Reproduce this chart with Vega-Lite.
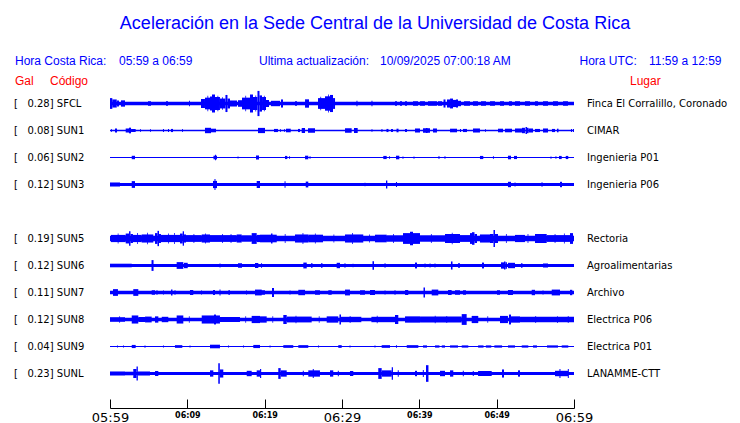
{
"$schema":"https://vega.github.io/schema/vega-lite/v6.json",
"autosize":{"type":"none"},
"width":464,"height":297,
"padding":{"left":110,"top":90,"right":166,"bottom":36},
"background":"#ffffff",
"title":{"text":"Aceleración en la Sede Central de la Universidad de Costa Rica","font":"Liberation Sans","fontSize":18,"fontWeight":"normal","color":"#0000ff","anchor":"middle","baseline":"alphabetic","offset":8,"dx":33},
"config":{"view":{"stroke":null}},
"datasets":{
"st":[
{"s":"SFCL","peak":0.28,"name":"Finca El Corralillo, Coronado"},
{"s":"SUN1","peak":0.08,"name":"CIMAR"},
{"s":"SUN2","peak":0.06,"name":"Ingenieria P01"},
{"s":"SUN3","peak":0.12,"name":"Ingenieria P06"},
{"s":"SUN5","peak":0.19,"name":"Rectoria"},
{"s":"SUN6","peak":0.12,"name":"Agroalimentarias"},
{"s":"SUN7","peak":0.11,"name":"Archivo"},
{"s":"SUN8","peak":0.12,"name":"Electrica P06"},
{"s":"SUN9","peak":0.04,"name":"Electrica P01"},
{"s":"SUNL","peak":0.23,"name":"LANAMME-CTT"}
],
"seg":[
{"s":"SFCL","t0":0,"t1":60,"a":0.038},{"s":"SFCL","t0":0,"t1":0.3,"a":0.12},{"s":"SFCL","t0":0.3,"t1":0.87,"a":0.09},{"s":"SFCL","t0":0.91,"t1":1.16,"a":0.067},{"s":"SFCL","t0":1.42,"t1":1.94,"a":0.07},{"s":"SFCL","t0":4.91,"t1":5.3,"a":0.05},{"s":"SFCL","t0":7.24,"t1":7.5,"a":0.05},{"s":"SFCL","t0":10.22,"t1":10.34,"a":0.06},
{"s":"SFCL","t0":11.77,"t1":12.28,"a":0.1},{"s":"SFCL","t0":12.28,"t1":12.93,"a":0.13},{"s":"SFCL","t0":12.6,"t1":12.7,"a":0.17},{"s":"SFCL","t0":12.93,"t1":13.19,"a":0.155},{"s":"SFCL","t0":13.19,"t1":13.58,"a":0.2},{"s":"SFCL","t0":13.58,"t1":14.22,"a":0.145},{"s":"SFCL","t0":13.9,"t1":14.0,"a":0.17},{"s":"SFCL","t0":14.22,"t1":14.93,"a":0.11},{"s":"SFCL","t0":14.5,"t1":14.6,"a":0.14},{"s":"SFCL","t0":14.93,"t1":15.19,"a":0.19},{"s":"SFCL","t0":15.19,"t1":15.52,"a":0.11},{"s":"SFCL","t0":15.52,"t1":16.42,"a":0.067},{"s":"SFCL","t0":16.55,"t1":17.07,"a":0.073},{"s":"SFCL","t0":17.07,"t1":18.1,"a":0.13},{"s":"SFCL","t0":17.5,"t1":17.6,"a":0.17},{"s":"SFCL","t0":18.1,"t1":18.49,"a":0.2},{"s":"SFCL","t0":18.49,"t1":19.07,"a":0.145},{"s":"SFCL","t0":18.8,"t1":18.9,"a":0.18},{"s":"SFCL","t0":19.07,"t1":19.33,"a":0.28},{"s":"SFCL","t0":19.33,"t1":19.66,"a":0.18},{"s":"SFCL","t0":19.66,"t1":20.17,"a":0.145},{"s":"SFCL","t0":19.9,"t1":20.0,"a":0.17},{"s":"SFCL","t0":20.17,"t1":20.56,"a":0.078},{"s":"SFCL","t0":20.82,"t1":21.98,"a":0.06},{"s":"SFCL","t0":22.11,"t1":22.37,"a":0.09},{"s":"SFCL","t0":23.92,"t1":24.18,"a":0.05},{"s":"SFCL","t0":25.22,"t1":25.73,"a":0.093},{"s":"SFCL","t0":26.9,"t1":27.8,"a":0.12},{"s":"SFCL","t0":27.2,"t1":27.3,"a":0.15},{"s":"SFCL","t0":27.8,"t1":28.45,"a":0.16},{"s":"SFCL","t0":28.2,"t1":28.3,"a":0.2},{"s":"SFCL","t0":28.45,"t1":28.84,"a":0.19},{"s":"SFCL","t0":28.84,"t1":29.1,"a":0.12},{"s":"SFCL","t0":31.87,"t1":32.0,"a":0.06},{"s":"SFCL","t0":33.81,"t1":33.94,"a":0.06},{"s":"SFCL","t0":36.85,"t1":37.11,"a":0.05},{"s":"SFCL","t0":37.5,"t1":37.76,"a":0.05},{"s":"SFCL","t0":38.15,"t1":38.4,"a":0.05},{"s":"SFCL","t0":39.18,"t1":39.83,"a":0.05},{"s":"SFCL","t0":40.09,"t1":40.73,"a":0.05},{"s":"SFCL","t0":41.12,"t1":42.28,"a":0.05},{"s":"SFCL","t0":42.41,"t1":42.93,"a":0.05},{"s":"SFCL","t0":43.13,"t1":43.38,"a":0.09},{"s":"SFCL","t0":43.58,"t1":43.97,"a":0.09},{"s":"SFCL","t0":43.97,"t1":44.35,"a":0.11},{"s":"SFCL","t0":44.35,"t1":44.74,"a":0.08},{"s":"SFCL","t0":44.74,"t1":45.0,"a":0.09},{"s":"SFCL","t0":45.0,"t1":45.39,"a":0.06},{"s":"SFCL","t0":45.78,"t1":46.55,"a":0.05},{"s":"SFCL","t0":46.94,"t1":47.59,"a":0.05},{"s":"SFCL","t0":47.97,"t1":48.62,"a":0.05},{"s":"SFCL","t0":49.14,"t1":49.78,"a":0.05},{"s":"SFCL","t0":50.43,"t1":50.95,"a":0.05},{"s":"SFCL","t0":51.59,"t1":51.98,"a":0.05},{"s":"SFCL","t0":52.37,"t1":53.02,"a":0.05},{"s":"SFCL","t0":53.66,"t1":54.31,"a":0.05},{"s":"SFCL","t0":54.96,"t1":55.34,"a":0.05},{"s":"SFCL","t0":55.99,"t1":56.64,"a":0.05},{"s":"SFCL","t0":57.28,"t1":57.93,"a":0.05},{"s":"SFCL","t0":58.58,"t1":59.22,"a":0.05},

{"s":"SUN1","t0":0,"t1":60,"a":0.018},{"s":"SUN1","t0":0.13,"t1":0.26,"a":0.03},{"s":"SUN1","t0":0.65,"t1":0.91,"a":0.045},{"s":"SUN1","t0":2.03,"t1":2.46,"a":0.045},{"s":"SUN1","t0":2.46,"t1":2.72,"a":0.063},{"s":"SUN1","t0":2.72,"t1":3.32,"a":0.033},{"s":"SUN1","t0":3.88,"t1":4.01,"a":0.03},{"s":"SUN1","t0":5.17,"t1":5.3,"a":0.03},{"s":"SUN1","t0":6.85,"t1":6.98,"a":0.035},{"s":"SUN1","t0":7.5,"t1":7.63,"a":0.035},{"s":"SUN1","t0":7.89,"t1":8.15,"a":0.035},{"s":"SUN1","t0":9.31,"t1":9.44,"a":0.03},{"s":"SUN1","t0":12.28,"t1":13.06,"a":0.06},{"s":"SUN1","t0":13.06,"t1":13.71,"a":0.04},{"s":"SUN1","t0":19.14,"t1":20.04,"a":0.058},{"s":"SUN1","t0":21.21,"t1":21.72,"a":0.035},{"s":"SUN1","t0":21.98,"t1":22.11,"a":0.03},{"s":"SUN1","t0":22.5,"t1":22.63,"a":0.03},{"s":"SUN1","t0":22.76,"t1":23.37,"a":0.04},{"s":"SUN1","t0":24.31,"t1":24.57,"a":0.035},{"s":"SUN1","t0":24.79,"t1":25.22,"a":0.055},{"s":"SUN1","t0":25.6,"t1":26.51,"a":0.05},{"s":"SUN1","t0":30.39,"t1":31.25,"a":0.05},{"s":"SUN1","t0":31.55,"t1":32.03,"a":0.055},{"s":"SUN1","t0":33.81,"t1":33.94,"a":0.03},{"s":"SUN1","t0":35.1,"t1":35.23,"a":0.035},{"s":"SUN1","t0":35.75,"t1":36.01,"a":0.035},{"s":"SUN1","t0":36.34,"t1":36.59,"a":0.035},{"s":"SUN1","t0":37.05,"t1":37.31,"a":0.04},{"s":"SUN1","t0":38.15,"t1":38.4,"a":0.035},{"s":"SUN1","t0":39.44,"t1":40.09,"a":0.045},{"s":"SUN1","t0":40.47,"t1":41.38,"a":0.05},{"s":"SUN1","t0":40.86,"t1":41.06,"a":0.055},{"s":"SUN1","t0":41.77,"t1":42.28,"a":0.045},{"s":"SUN1","t0":43.97,"t1":44.87,"a":0.04},{"s":"SUN1","t0":45.26,"t1":45.39,"a":0.035},{"s":"SUN1","t0":45.65,"t1":46.16,"a":0.035},{"s":"SUN1","t0":46.94,"t1":47.84,"a":0.045},{"s":"SUN1","t0":48.49,"t1":48.62,"a":0.03},{"s":"SUN1","t0":50.17,"t1":50.82,"a":0.04},{"s":"SUN1","t0":51.08,"t1":51.98,"a":0.04},{"s":"SUN1","t0":52.37,"t1":53.27,"a":0.045},{"s":"SUN1","t0":53.27,"t1":53.66,"a":0.06},{"s":"SUN1","t0":53.73,"t1":53.92,"a":0.08},{"s":"SUN1","t0":53.92,"t1":54.12,"a":0.06},{"s":"SUN1","t0":54.12,"t1":54.7,"a":0.045},{"s":"SUN1","t0":54.96,"t1":55.6,"a":0.035},{"s":"SUN1","t0":55.99,"t1":56.64,"a":0.045},{"s":"SUN1","t0":57.15,"t1":57.54,"a":0.035},{"s":"SUN1","t0":57.8,"t1":58.0,"a":0.04},{"s":"SUN1","t0":59.61,"t1":59.74,"a":0.035},{"s":"SUN1","t0":59.87,"t1":60,"a":0.035},

{"s":"SUN2","t0":0,"t1":60,"a":0.013},{"s":"SUN2","t0":2.81,"t1":3.23,"a":0.038},{"s":"SUN2","t0":13.38,"t1":13.84,"a":0.04},{"s":"SUN2","t0":13.58,"t1":13.71,"a":0.06},{"s":"SUN2","t0":16.49,"t1":16.62,"a":0.02},{"s":"SUN2","t0":18.88,"t1":19.27,"a":0.045},{"s":"SUN2","t0":22.63,"t1":22.93,"a":0.035},{"s":"SUN2","t0":23.15,"t1":23.28,"a":0.03},{"s":"SUN2","t0":25.22,"t1":25.64,"a":0.04},{"s":"SUN2","t0":25.8,"t1":25.93,"a":0.03},{"s":"SUN2","t0":35.34,"t1":35.78,"a":0.035},{"s":"SUN2","t0":36.08,"t1":36.21,"a":0.03},{"s":"SUN2","t0":36.98,"t1":37.41,"a":0.04},{"s":"SUN2","t0":37.82,"t1":37.95,"a":0.025},{"s":"SUN2","t0":39.25,"t1":39.37,"a":0.025},{"s":"SUN2","t0":42.48,"t1":42.6,"a":0.035},{"s":"SUN2","t0":43.25,"t1":43.38,"a":0.03},{"s":"SUN2","t0":47.84,"t1":48.27,"a":0.035},{"s":"SUN2","t0":49.52,"t1":49.65,"a":0.03},{"s":"SUN2","t0":51.46,"t1":51.85,"a":0.04},{"s":"SUN2","t0":52.24,"t1":52.63,"a":0.035},{"s":"SUN2","t0":56.96,"t1":57.09,"a":0.025},{"s":"SUN2","t0":57.6,"t1":57.73,"a":0.03},{"s":"SUN2","t0":58.06,"t1":58.41,"a":0.035},{"s":"SUN2","t0":58.93,"t1":59.26,"a":0.035},

{"s":"SUN3","t0":0,"t1":60,"a":0.033},{"s":"SUN3","t0":0,"t1":1.29,"a":0.045},{"s":"SUN3","t0":2.81,"t1":3.23,"a":0.075},{"s":"SUN3","t0":13.32,"t1":13.84,"a":0.08},{"s":"SUN3","t0":13.51,"t1":13.64,"a":0.12},{"s":"SUN3","t0":18.97,"t1":19.4,"a":0.078},{"s":"SUN3","t0":22.57,"t1":22.7,"a":0.07},{"s":"SUN3","t0":25.31,"t1":25.64,"a":0.065},{"s":"SUN3","t0":32.91,"t1":33.04,"a":0.04},{"s":"SUN3","t0":35.69,"t1":35.86,"a":0.09},{"s":"SUN3","t0":36.98,"t1":37.11,"a":0.055},{"s":"SUN3","t0":51.46,"t1":51.85,"a":0.06},{"s":"SUN3","t0":52.31,"t1":52.44,"a":0.045},{"s":"SUN3","t0":55.8,"t1":55.93,"a":0.05},{"s":"SUN3","t0":58.19,"t1":58.45,"a":0.06},

{"s":"SUN5","t0":0,"t1":60,"a":0.062},{"s":"SUN5","t0":0.13,"t1":2.03,"a":0.08},{"s":"SUN5","t0":2.03,"t1":2.46,"a":0.11},{"s":"SUN5","t0":2.46,"t1":2.65,"a":0.16},{"s":"SUN5","t0":2.65,"t1":2.97,"a":0.1},{"s":"SUN5","t0":2.97,"t1":4.1,"a":0.08},{"s":"SUN5","t0":4.1,"t1":5.6,"a":0.09},{"s":"SUN5","t0":5.82,"t1":6.14,"a":0.12},{"s":"SUN5","t0":6.14,"t1":6.34,"a":0.17},{"s":"SUN5","t0":6.34,"t1":6.59,"a":0.1},{"s":"SUN5","t0":6.59,"t1":9.05,"a":0.08},{"s":"SUN5","t0":9.05,"t1":9.4,"a":0.11},{"s":"SUN5","t0":9.4,"t1":9.57,"a":0.16},{"s":"SUN5","t0":9.57,"t1":9.83,"a":0.09},{"s":"SUN5","t0":9.83,"t1":11.86,"a":0.075},{"s":"SUN5","t0":11.86,"t1":12.93,"a":0.09},{"s":"SUN5","t0":12.93,"t1":16.38,"a":0.075},{"s":"SUN5","t0":16.38,"t1":17.03,"a":0.09},{"s":"SUN5","t0":17.03,"t1":18.32,"a":0.07},{"s":"SUN5","t0":18.32,"t1":18.97,"a":0.12},{"s":"SUN5","t0":18.97,"t1":19.4,"a":0.08},{"s":"SUN5","t0":19.4,"t1":21.56,"a":0.085},{"s":"SUN5","t0":20.82,"t1":21.01,"a":0.11},{"s":"SUN5","t0":23.92,"t1":25.64,"a":0.09},{"s":"SUN5","t0":25.64,"t1":27.54,"a":0.085},{"s":"SUN5","t0":30.39,"t1":32.75,"a":0.09},{"s":"SUN5","t0":34.27,"t1":35.78,"a":0.085},{"s":"SUN5","t0":35.78,"t1":37.89,"a":0.07},{"s":"SUN5","t0":37.89,"t1":38.79,"a":0.12},{"s":"SUN5","t0":38.79,"t1":39.18,"a":0.15},{"s":"SUN5","t0":39.18,"t1":40.09,"a":0.12},{"s":"SUN5","t0":40.09,"t1":43.32,"a":0.07},{"s":"SUN5","t0":43.32,"t1":45.26,"a":0.1},{"s":"SUN5","t0":45.26,"t1":46.55,"a":0.075},{"s":"SUN5","t0":46.55,"t1":46.81,"a":0.12},{"s":"SUN5","t0":46.81,"t1":47.13,"a":0.14},{"s":"SUN5","t0":47.13,"t1":47.46,"a":0.1},{"s":"SUN5","t0":47.84,"t1":49.14,"a":0.09},{"s":"SUN5","t0":49.14,"t1":49.59,"a":0.1},{"s":"SUN5","t0":49.59,"t1":49.78,"a":0.19},{"s":"SUN5","t0":49.78,"t1":50.17,"a":0.1},{"s":"SUN5","t0":52.37,"t1":53.66,"a":0.08},{"s":"SUN5","t0":54.96,"t1":56.47,"a":0.1},{"s":"SUN5","t0":56.47,"t1":59.48,"a":0.075},{"s":"SUN5","t0":59.48,"t1":59.87,"a":0.12},
{"s":"SUN5","t0":1.0,"t1":1.1,"a":0.11},{"s":"SUN5","t0":3.5,"t1":3.6,"a":0.12},{"s":"SUN5","t0":4.8,"t1":4.9,"a":0.13},{"s":"SUN5","t0":7.5,"t1":7.6,"a":0.11},{"s":"SUN5","t0":8.3,"t1":8.4,"a":0.12},{"s":"SUN5","t0":10.8,"t1":10.9,"a":0.1},{"s":"SUN5","t0":12.3,"t1":12.4,"a":0.11},{"s":"SUN5","t0":14.5,"t1":14.6,"a":0.1},{"s":"SUN5","t0":15.6,"t1":15.7,"a":0.1},{"s":"SUN5","t0":22.6,"t1":22.7,"a":0.1},{"s":"SUN5","t0":24.9,"t1":25.0,"a":0.12},{"s":"SUN5","t0":26.5,"t1":26.6,"a":0.11},{"s":"SUN5","t0":28.9,"t1":29.0,"a":0.09},{"s":"SUN5","t0":31.3,"t1":31.4,"a":0.12},{"s":"SUN5","t0":33.5,"t1":33.6,"a":0.09},{"s":"SUN5","t0":36.6,"t1":36.7,"a":0.1},{"s":"SUN5","t0":41.5,"t1":41.6,"a":0.1},{"s":"SUN5","t0":44.2,"t1":44.3,"a":0.13},{"s":"SUN5","t0":51.2,"t1":51.3,"a":0.1},{"s":"SUN5","t0":54.0,"t1":54.1,"a":0.1},{"s":"SUN5","t0":57.5,"t1":57.6,"a":0.1},{"s":"SUN5","t0":58.7,"t1":58.8,"a":0.11},

{"s":"SUN6","t0":0,"t1":60,"a":0.033},{"s":"SUN6","t0":0,"t1":2.81,"a":0.04},{"s":"SUN6","t0":5.37,"t1":5.63,"a":0.12},{"s":"SUN6","t0":8.62,"t1":9.48,"a":0.075},{"s":"SUN6","t0":9.57,"t1":10.05,"a":0.06},{"s":"SUN6","t0":14.16,"t1":14.29,"a":0.045},{"s":"SUN6","t0":16.55,"t1":17.07,"a":0.05},{"s":"SUN6","t0":18.75,"t1":19.18,"a":0.055},{"s":"SUN6","t0":19.53,"t1":19.66,"a":0.05},{"s":"SUN6","t0":25.0,"t1":25.44,"a":0.065},{"s":"SUN6","t0":25.99,"t1":26.19,"a":0.05},{"s":"SUN6","t0":27.28,"t1":27.48,"a":0.05},{"s":"SUN6","t0":29.31,"t1":29.74,"a":0.06},{"s":"SUN6","t0":30.32,"t1":30.45,"a":0.05},{"s":"SUN6","t0":31.36,"t1":31.49,"a":0.04},{"s":"SUN6","t0":33.94,"t1":34.14,"a":0.095},{"s":"SUN6","t0":35.5,"t1":35.63,"a":0.05},{"s":"SUN6","t0":39.44,"t1":39.7,"a":0.065},{"s":"SUN6","t0":40.67,"t1":40.8,"a":0.045},{"s":"SUN6","t0":41.32,"t1":41.45,"a":0.045},{"s":"SUN6","t0":41.96,"t1":42.09,"a":0.045},{"s":"SUN6","t0":44.09,"t1":44.29,"a":0.09},{"s":"SUN6","t0":45.0,"t1":45.26,"a":0.05},{"s":"SUN6","t0":48.1,"t1":48.36,"a":0.065},{"s":"SUN6","t0":50.56,"t1":50.95,"a":0.07},{"s":"SUN6","t0":50.95,"t1":51.14,"a":0.09},{"s":"SUN6","t0":51.14,"t1":51.33,"a":0.07},{"s":"SUN6","t0":51.46,"t1":52.37,"a":0.06},{"s":"SUN6","t0":53.15,"t1":53.34,"a":0.05},{"s":"SUN6","t0":55.99,"t1":56.64,"a":0.045},

{"s":"SUN7","t0":0,"t1":60,"a":0.037},{"s":"SUN7","t0":0.39,"t1":1.03,"a":0.075},{"s":"SUN7","t0":3.01,"t1":3.66,"a":0.075},{"s":"SUN7","t0":5.39,"t1":5.82,"a":0.05},{"s":"SUN7","t0":6.01,"t1":6.14,"a":0.05},{"s":"SUN7","t0":6.85,"t1":6.98,"a":0.045},{"s":"SUN7","t0":7.89,"t1":8.08,"a":0.065},{"s":"SUN7","t0":8.34,"t1":8.47,"a":0.05},{"s":"SUN7","t0":10.34,"t1":10.77,"a":0.055},{"s":"SUN7","t0":11.77,"t1":11.9,"a":0.045},{"s":"SUN7","t0":13.32,"t1":13.58,"a":0.055},{"s":"SUN7","t0":14.16,"t1":14.29,"a":0.065},{"s":"SUN7","t0":15.3,"t1":15.52,"a":0.05},{"s":"SUN7","t0":17.59,"t1":17.72,"a":0.045},{"s":"SUN7","t0":18.75,"t1":19.62,"a":0.065},{"s":"SUN7","t0":19.4,"t1":20.04,"a":0.05},{"s":"SUN7","t0":20.95,"t1":21.21,"a":0.1},{"s":"SUN7","t0":23.21,"t1":23.34,"a":0.045},{"s":"SUN7","t0":24.35,"t1":25.22,"a":0.06},{"s":"SUN7","t0":26.51,"t1":27.15,"a":0.05},{"s":"SUN7","t0":28.23,"t1":28.67,"a":0.05},{"s":"SUN7","t0":30.39,"t1":31.03,"a":0.065},{"s":"SUN7","t0":32.33,"t1":32.97,"a":0.05},{"s":"SUN7","t0":33.62,"t1":34.27,"a":0.055},{"s":"SUN7","t0":35.5,"t1":35.63,"a":0.045},{"s":"SUN7","t0":36.79,"t1":36.92,"a":0.05},{"s":"SUN7","t0":38.15,"t1":38.57,"a":0.055},{"s":"SUN7","t0":40.54,"t1":40.73,"a":0.11},{"s":"SUN7","t0":41.6,"t1":42.45,"a":0.065},{"s":"SUN7","t0":43.71,"t1":44.18,"a":0.055},{"s":"SUN7","t0":44.61,"t1":45.26,"a":0.05},{"s":"SUN7","t0":45.65,"t1":46.03,"a":0.05},{"s":"SUN7","t0":50.04,"t1":50.43,"a":0.05},{"s":"SUN7","t0":51.46,"t1":52.11,"a":0.055},{"s":"SUN7","t0":54.53,"t1":54.96,"a":0.06},{"s":"SUN7","t0":55.93,"t1":56.06,"a":0.045},{"s":"SUN7","t0":57.12,"t1":58.19,"a":0.065},{"s":"SUN7","t0":59.48,"t1":59.78,"a":0.06},

{"s":"SUN8","t0":0,"t1":60,"a":0.04},{"s":"SUN8","t0":0,"t1":1.94,"a":0.05},{"s":"SUN8","t0":2.81,"t1":3.66,"a":0.09},{"s":"SUN8","t0":3.66,"t1":4.53,"a":0.055},{"s":"SUN8","t0":4.53,"t1":5.39,"a":0.065},{"s":"SUN8","t0":5.82,"t1":6.25,"a":0.07},{"s":"SUN8","t0":6.69,"t1":7.54,"a":0.06},{"s":"SUN8","t0":8.62,"t1":9.48,"a":0.09},{"s":"SUN8","t0":11.86,"t1":13.45,"a":0.09},{"s":"SUN8","t0":13.45,"t1":13.71,"a":0.11},{"s":"SUN8","t0":13.71,"t1":14.22,"a":0.09},{"s":"SUN8","t0":14.22,"t1":16.81,"a":0.055},{"s":"SUN8","t0":18.32,"t1":19.4,"a":0.08},{"s":"SUN8","t0":19.4,"t1":20.26,"a":0.07},{"s":"SUN8","t0":22.41,"t1":22.85,"a":0.1},{"s":"SUN8","t0":22.85,"t1":26.08,"a":0.065},{"s":"SUN8","t0":28.02,"t1":29.52,"a":0.07},{"s":"SUN8","t0":29.67,"t1":29.87,"a":0.11},{"s":"SUN8","t0":29.87,"t1":32.5,"a":0.06},{"s":"SUN8","t0":33.8,"t1":36.85,"a":0.06},{"s":"SUN8","t0":36.85,"t1":37.28,"a":0.1},{"s":"SUN8","t0":38.15,"t1":40.09,"a":0.07},{"s":"SUN8","t0":40.09,"t1":45.48,"a":0.065},{"s":"SUN8","t0":45.48,"t1":46.12,"a":0.12},{"s":"SUN8","t0":46.77,"t1":47.62,"a":0.08},{"s":"SUN8","t0":50.43,"t1":51.46,"a":0.08},{"s":"SUN8","t0":51.59,"t1":51.85,"a":0.11},{"s":"SUN8","t0":51.85,"t1":53.02,"a":0.07},{"s":"SUN8","t0":53.02,"t1":60,"a":0.06},
{"s":"SUN8","t0":1.2,"t1":1.3,"a":0.07},{"s":"SUN8","t0":10.2,"t1":10.3,"a":0.07},{"s":"SUN8","t0":17.5,"t1":17.6,"a":0.07},{"s":"SUN8","t0":21.0,"t1":21.1,"a":0.07},{"s":"SUN8","t0":24.0,"t1":24.1,"a":0.085},{"s":"SUN8","t0":27.0,"t1":27.1,"a":0.07},{"s":"SUN8","t0":31.0,"t1":31.1,"a":0.08},{"s":"SUN8","t0":34.5,"t1":34.6,"a":0.085},{"s":"SUN8","t0":42.0,"t1":42.1,"a":0.085},{"s":"SUN8","t0":43.5,"t1":43.6,"a":0.08},{"s":"SUN8","t0":48.8,"t1":48.9,"a":0.07},{"s":"SUN8","t0":55.0,"t1":55.1,"a":0.08},{"s":"SUN8","t0":57.8,"t1":57.9,"a":0.075},{"s":"SUN8","t0":59.2,"t1":59.3,"a":0.08},

{"s":"SUN9","t0":0,"t1":60,"a":0.013},{"s":"SUN9","t0":0.91,"t1":1.03,"a":0.02},{"s":"SUN9","t0":1.68,"t1":1.81,"a":0.02},{"s":"SUN9","t0":2.81,"t1":3.32,"a":0.035},{"s":"SUN9","t0":4.46,"t1":4.59,"a":0.025},{"s":"SUN9","t0":6.85,"t1":6.98,"a":0.02},{"s":"SUN9","t0":8.4,"t1":9.35,"a":0.03},{"s":"SUN9","t0":10.28,"t1":10.41,"a":0.02},{"s":"SUN9","t0":12.93,"t1":14.22,"a":0.04},{"s":"SUN9","t0":15.26,"t1":15.39,"a":0.02},{"s":"SUN9","t0":17.2,"t1":17.33,"a":0.02},{"s":"SUN9","t0":18.53,"t1":19.4,"a":0.035},{"s":"SUN9","t0":20.63,"t1":20.76,"a":0.02},{"s":"SUN9","t0":22.41,"t1":23.7,"a":0.03},{"s":"SUN9","t0":24.35,"t1":25.64,"a":0.03},{"s":"SUN9","t0":26.9,"t1":27.03,"a":0.02},{"s":"SUN9","t0":29.52,"t1":29.96,"a":0.03},{"s":"SUN9","t0":30.97,"t1":31.1,"a":0.02},{"s":"SUN9","t0":34.2,"t1":34.33,"a":0.02},{"s":"SUN9","t0":35.13,"t1":36.21,"a":0.03},{"s":"SUN9","t0":36.98,"t1":37.11,"a":0.03},{"s":"SUN9","t0":38.37,"t1":39.87,"a":0.03},{"s":"SUN9","t0":40.47,"t1":40.99,"a":0.025},{"s":"SUN9","t0":42.03,"t1":42.6,"a":0.025},{"s":"SUN9","t0":42.9,"t1":43.32,"a":0.025},{"s":"SUN9","t0":43.97,"t1":45.0,"a":0.025},{"s":"SUN9","t0":45.48,"t1":46.33,"a":0.025},{"s":"SUN9","t0":47.6,"t1":48.3,"a":0.025},{"s":"SUN9","t0":48.6,"t1":49.3,"a":0.025},{"s":"SUN9","t0":49.7,"t1":50.7,"a":0.025},{"s":"SUN9","t0":51.46,"t1":52.37,"a":0.025},{"s":"SUN9","t0":53.24,"t1":54.09,"a":0.025},{"s":"SUN9","t0":54.7,"t1":55.21,"a":0.025},{"s":"SUN9","t0":56.51,"t1":57.93,"a":0.025},{"s":"SUN9","t0":58.41,"t1":59.26,"a":0.025},

{"s":"SUNL","t0":0,"t1":60,"a":0.033},{"s":"SUNL","t0":0,"t1":1.94,"a":0.045},{"s":"SUNL","t0":1.94,"t1":3.01,"a":0.04},{"s":"SUNL","t0":3.01,"t1":3.43,"a":0.1},{"s":"SUNL","t0":3.43,"t1":3.6,"a":0.155},{"s":"SUNL","t0":3.6,"t1":5.17,"a":0.045},{"s":"SUNL","t0":5.82,"t1":6.25,"a":0.055},{"s":"SUNL","t0":12.93,"t1":13.36,"a":0.07},{"s":"SUNL","t0":14.0,"t1":14.2,"a":0.23},{"s":"SUNL","t0":14.2,"t1":14.65,"a":0.09},{"s":"SUNL","t0":17.68,"t1":18.32,"a":0.06},{"s":"SUNL","t0":18.97,"t1":19.4,"a":0.07},{"s":"SUNL","t0":19.4,"t1":19.55,"a":0.1},{"s":"SUNL","t0":21.76,"t1":22.07,"a":0.12},{"s":"SUNL","t0":22.07,"t1":22.85,"a":0.07},{"s":"SUNL","t0":24.93,"t1":25.06,"a":0.06},{"s":"SUNL","t0":25.64,"t1":27.15,"a":0.07},{"s":"SUNL","t0":26.22,"t1":26.35,"a":0.1},{"s":"SUNL","t0":28.45,"t1":28.87,"a":0.07},{"s":"SUNL","t0":29.46,"t1":29.59,"a":0.06},{"s":"SUNL","t0":31.03,"t1":31.46,"a":0.055},{"s":"SUNL","t0":34.69,"t1":35.13,"a":0.12},{"s":"SUNL","t0":35.13,"t1":36.43,"a":0.07},{"s":"SUNL","t0":36.43,"t1":36.59,"a":0.14},{"s":"SUNL","t0":37.21,"t1":37.34,"a":0.07},{"s":"SUNL","t0":39.44,"t1":39.7,"a":0.06},{"s":"SUNL","t0":40.45,"t1":40.58,"a":0.08},{"s":"SUNL","t0":40.86,"t1":41.18,"a":0.185},{"s":"SUNL","t0":42.67,"t1":43.32,"a":0.06},{"s":"SUNL","t0":43.97,"t1":44.39,"a":0.07},{"s":"SUNL","t0":45.62,"t1":45.75,"a":0.06},{"s":"SUNL","t0":46.91,"t1":47.04,"a":0.055},{"s":"SUNL","t0":47.59,"t1":49.36,"a":0.055},{"s":"SUNL","t0":50.69,"t1":50.95,"a":0.09},{"s":"SUNL","t0":52.76,"t1":53.02,"a":0.07},{"s":"SUNL","t0":57.54,"t1":59.26,"a":0.06},{"s":"SUNL","t0":58.12,"t1":58.25,"a":0.1},{"s":"SUNL","t0":59.2,"t1":59.33,"a":0.1}
]
},
"layer":[
{"data":{"name":"seg"},
 "mark":{"type":"rule","color":"#0000ff"},
 "encoding":{
  "x":{"field":"t0","type":"quantitative","scale":{"domain":[0,60],"nice":false,"zero":false},
   "axis":{"values":[0,5,10,15,20,25,30,35,40,45,50,55,60],"title":null,"grid":false,"offset":21,
    "domainColor":"#000000","domainWidth":1,"tickColor":"#000000","tickWidth":1,"tickSize":-9,"labelPadding":12,
    "labelExpr":"datum.value % 10 == 0 ? timeFormat(datetime(2025, 9, 9, 5, 59 + datum.value), '%H:%M') : ''",
    "labelFont":"DejaVu Sans","labelColor":"#000000","labelFlush":false,"labelOverlap":false,"labelBaseline":"top",
    "labelFontSize":{"condition":{"test":"datum.value % 30 == 0","value":13},"value":8},
    "labelFontWeight":{"condition":{"test":"datum.value % 30 == 0","value":"normal"},"value":"bold"}}},
  "x2":{"field":"t1"},
  "y":{"field":"s","type":"nominal","scale":{"type":"point","domain":["SFCL","SUN1","SUN2","SUN3","SUN4","SUN5","SUN6","SUN7","SUN8","SUN9","SUNL"],"padding":0.5},"axis":null},
  "strokeWidth":{"field":"a","type":"quantitative","scale":{"domain":[0,0.3],"range":[0,27]},"legend":null}
 }},
{"data":{"name":"st"},
 "transform":[{"calculate":"'[\u00a0\u00a0\u00a0' + format(datum.peak, '.2f') + '] ' + datum.s","as":"label"}],
 "mark":{"type":"text","align":"left","baseline":"middle","dx":-96,"font":"DejaVu Sans","fontSize":10,"color":"#000000"},
 "encoding":{"x":{"datum":0},"y":{"field":"s","type":"nominal"},"text":{"field":"label"}}},
{"data":{"name":"st"},
 "mark":{"type":"text","align":"left","baseline":"middle","dx":13,"font":"DejaVu Sans","fontSize":10,"color":"#000000"},
 "encoding":{"x":{"datum":60},"y":{"field":"s","type":"nominal"},"text":{"field":"name"}}},
{"data":{"values":[{}]},"mark":{"type":"text","text":"Hora Costa Rica:","align":"left","baseline":"middle","dx":-95,"dy":-42.3,"font":"Liberation Sans","fontSize":12,"color":"#0000ff"},"encoding":{"x":{"datum":0},"y":{"datum":"SFCL"}}},
{"data":{"values":[{}]},"mark":{"type":"text","text":"05:59 a 06:59","align":"left","baseline":"middle","dx":9,"dy":-42.3,"font":"Liberation Sans","fontSize":12,"color":"#0000ff"},"encoding":{"x":{"datum":0},"y":{"datum":"SFCL"}}},
{"data":{"values":[{}]},"mark":{"type":"text","text":"Ultima actualización:","align":"left","baseline":"middle","dx":149,"dy":-42.3,"font":"Liberation Sans","fontSize":12,"color":"#0000ff"},"encoding":{"x":{"datum":0},"y":{"datum":"SFCL"}}},
{"data":{"values":[{}]},"mark":{"type":"text","text":"10/09/2025 07:00:18 AM","align":"left","baseline":"middle","dx":270,"dy":-42.3,"font":"Liberation Sans","fontSize":12,"color":"#0000ff"},"encoding":{"x":{"datum":0},"y":{"datum":"SFCL"}}},
{"data":{"values":[{}]},"mark":{"type":"text","text":"Hora UTC:","align":"left","baseline":"middle","dx":469.5,"dy":-42.3,"font":"Liberation Sans","fontSize":12,"color":"#0000ff"},"encoding":{"x":{"datum":0},"y":{"datum":"SFCL"}}},
{"data":{"values":[{}]},"mark":{"type":"text","text":"11:59 a 12:59","align":"left","baseline":"middle","dx":539,"dy":-42.3,"font":"Liberation Sans","fontSize":12,"color":"#0000ff"},"encoding":{"x":{"datum":0},"y":{"datum":"SFCL"}}},
{"data":{"values":[{}]},"mark":{"type":"text","text":"Gal","align":"left","baseline":"middle","dx":-95,"dy":-22.3,"font":"Liberation Sans","fontSize":12,"color":"#ff0000"},"encoding":{"x":{"datum":0},"y":{"datum":"SFCL"}}},
{"data":{"values":[{}]},"mark":{"type":"text","text":"Código","align":"left","baseline":"middle","dx":-60,"dy":-22.3,"font":"Liberation Sans","fontSize":12,"color":"#ff0000"},"encoding":{"x":{"datum":0},"y":{"datum":"SFCL"}}},
{"data":{"values":[{}]},"mark":{"type":"text","text":"Lugar","align":"left","baseline":"middle","dx":520,"dy":-22.3,"font":"Liberation Sans","fontSize":12,"color":"#ff0000"},"encoding":{"x":{"datum":0},"y":{"datum":"SFCL"}}}
]
}
